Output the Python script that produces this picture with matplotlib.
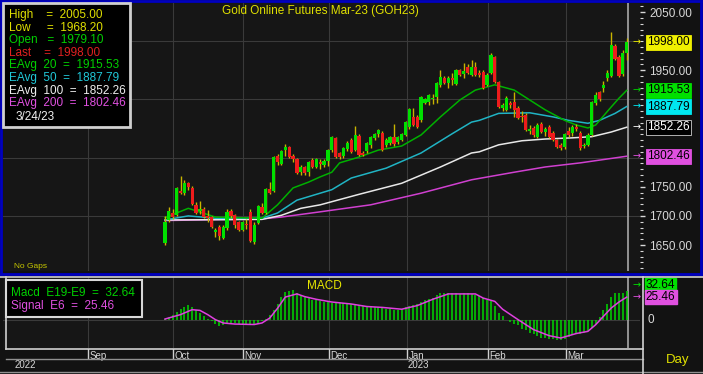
import numpy as np
import matplotlib.pyplot as plt
from matplotlib.ticker import MultipleLocator
from matplotlib.patches import Rectangle
from matplotlib.lines import Line2D

plt.rcParams['font.family'] = ['Liberation Sans', 'DejaVu Sans']

# daily OHLC, late Sep 2022 -> 3/24/23
opens = [1653, 1693, 1705, 1701, 1742, 1739, 1756, 1748, 1719, 1708,
         1712, 1700, 1698, 1672, 1681, 1662, 1679, 1708, 1701, 1689,
         1676, 1686, 1707, 1655, 1688, 1715, 1705, 1746, 1743, 1803,
         1789, 1813, 1818, 1803, 1798, 1776, 1784, 1776, 1796, 1784,
         1792, 1788, 1795, 1813, 1834, 1808, 1803, 1815, 1830, 1813,
         1837, 1808, 1811, 1822, 1834, 1840, 1842, 1822, 1825, 1836,
         1827, 1830, 1839, 1853, 1870, 1870, 1865, 1894, 1896, 1900,
         1904, 1925, 1936, 1928, 1937, 1926, 1950, 1944, 1955, 1942,
         1955, 1946, 1947, 1925, 1945, 1972, 1930, 1885, 1882, 1893,
         1895, 1885, 1872, 1873, 1845, 1851, 1835, 1858, 1844, 1853,
         1842, 1830, 1822, 1818, 1846, 1842, 1853, 1842, 1820, 1822,
         1839, 1894, 1912, 1920, 1937, 1941, 1991, 1973, 1944, 1979.1]
highs = [1700, 1715, 1712, 1750, 1768, 1762, 1759, 1752, 1724, 1725,
         1716, 1710, 1700, 1680, 1684, 1684, 1712, 1712, 1704, 1692,
         1692, 1694, 1712, 1690, 1718, 1722, 1748, 1758, 1803, 1807,
         1813, 1823, 1820, 1806, 1800, 1787, 1786, 1795, 1799, 1800,
         1797, 1798, 1815, 1838, 1836, 1810, 1818, 1828, 1833, 1854,
         1840, 1812, 1827, 1838, 1843, 1850, 1846, 1834, 1838, 1858,
         1837, 1843, 1863, 1885, 1885, 1874, 1906, 1903, 1910, 1910,
         1930, 1950, 1940, 1940, 1945, 1952, 1952, 1962, 1960, 1968,
         1965, 1950, 1950, 1945, 1980, 1975, 1932, 1893, 1905, 1897,
         1913, 1888, 1880, 1876, 1856, 1854, 1859, 1862, 1852, 1856,
         1845, 1832, 1825, 1843, 1852, 1856, 1858, 1846, 1826, 1842,
         1898, 1912, 1915, 1932, 1950, 2015, 1995, 1977, 1985, 2005]
lows = [1650, 1690, 1695, 1699, 1738, 1736, 1745, 1718, 1703, 1704,
        1696, 1689, 1679, 1664, 1658, 1660, 1676, 1697, 1680, 1674,
        1674, 1678, 1655, 1652, 1686, 1703, 1703, 1738, 1741, 1788,
        1787, 1803, 1799, 1793, 1772, 1770, 1770, 1768, 1782, 1782,
        1780, 1784, 1785, 1810, 1799, 1798, 1800, 1812, 1808, 1811,
        1803, 1802, 1808, 1816, 1830, 1836, 1811, 1818, 1822, 1820,
        1824, 1828, 1837, 1850, 1854, 1851, 1862, 1892, 1890, 1892,
        1893, 1922, 1926, 1920, 1925, 1924, 1940, 1936, 1943, 1940,
        1940, 1938, 1918, 1923, 1943, 1928, 1885, 1880, 1880, 1885,
        1870, 1866, 1862, 1845, 1840, 1836, 1833, 1842, 1838, 1833,
        1828, 1816, 1813, 1815, 1836, 1838, 1846, 1813, 1816, 1820,
        1837, 1890, 1898, 1912, 1932, 1938, 1967, 1939, 1940, 1968.2]
closes = [1689, 1708, 1698, 1748, 1740, 1756, 1750, 1720, 1705, 1711,
          1698, 1697, 1681, 1676, 1666, 1681, 1707, 1699, 1684, 1676,
          1689, 1684, 1657, 1684, 1717, 1705, 1746, 1740, 1801, 1792,
          1811, 1818, 1801, 1798, 1774, 1784, 1774, 1793, 1784, 1798,
          1789, 1794, 1813, 1836, 1801, 1801, 1816, 1825, 1810, 1839,
          1805, 1805, 1825, 1836, 1841, 1848, 1813, 1830, 1836, 1823,
          1835, 1841, 1861, 1883, 1856, 1853, 1904, 1901, 1908, 1902,
          1928, 1938, 1928, 1937, 1933, 1950, 1942, 1948, 1945, 1956,
          1942, 1942, 1920, 1942, 1976, 1930, 1887, 1890, 1902, 1890,
          1882, 1868, 1870, 1847, 1850, 1839, 1856, 1844, 1849, 1835,
          1830, 1818, 1817, 1840, 1839, 1853, 1849, 1816, 1822, 1839,
          1896, 1908, 1900, 1925, 1945, 1994, 1969, 1941, 1980, 1998]

# exponential averages at a few bars
ema20_idx = [0, 6, 13, 25, 29, 33, 37, 40, 43, 45, 50, 55, 61, 66, 71, 76, 80, 85,
             90, 94, 98, 103, 106, 109, 111, 115, 117, 119]
ema20_val = [1697, 1713, 1698, 1696, 1719, 1748, 1758, 1767, 1775, 1791, 1801, 1813,
             1820, 1839, 1870, 1899, 1916, 1925, 1916, 1899, 1882, 1864, 1856, 1851,
             1856, 1887, 1902, 1915.53]
ema50_idx = [0, 6, 13, 25, 29, 34, 39, 43, 48, 57, 66, 74, 79, 81, 86, 94, 100, 104,
             109, 112, 116, 119]
ema50_val = [1693, 1700, 1696, 1696, 1705, 1727, 1737, 1745, 1765, 1782, 1808, 1841,
             1861, 1864, 1876, 1877, 1870, 1864, 1859, 1864, 1876, 1887.79]
ema100_idx = [0, 25, 30, 35, 40, 50, 61, 71, 79, 81, 86, 92, 98, 105, 110, 115, 119]
ema100_val = [1693, 1694, 1701, 1713, 1719, 1737, 1756, 1784, 1808, 1810, 1822, 1829,
              1832, 1834, 1836, 1844, 1852.26]
ema200_idx = [0, 25, 30, 40, 53, 66, 79, 90, 98, 107, 119]
ema200_val = [1692, 1695, 1698, 1707, 1719, 1739, 1762, 1775, 1784, 1791, 1802.46]

# MACD (E19-E9) per bar and its E6 signal
macd = [1.5, 3, 5.5, 9, 12, 14, 17, 15, 11.5, 8,
        4, 1, -1.5, -4.5, -6.5, -5, -3.5, -3.3, -3.5, -4,
        -4, -4, -5, -6, -4, -1.5, 1, 6, 11, 18,
        26, 31, 32, 33, 30, 28, 26, 24, 22, 22,
        21, 20, 20, 19, 19, 19, 19, 18, 17.5, 17,
        16.3, 16, 15, 15, 15, 14, 13, 12, 12, 11.5,
        11.5, 12, 14, 16, 17, 18, 19.6, 21.8, 23.3, 25,
        28, 29.5, 30, 30, 30, 29.5, 29, 29.5, 30, 29,
        28, 27, 24, 22.6, 21, 16, 8, 4.5, 0, -2.5,
        -4.5, -6, -9.5, -11.5, -14, -16, -18, -20, -20, -21,
        -21, -22, -22, -21, -19, -17, -16, -15, -14, -12,
        -9, -4, 3, 11, 18, 26, 30, 30.5, 30, 32.64]
sig_idx = [0, 4, 7, 9, 11, 13, 15, 18, 23, 25, 27, 29, 31, 34, 36, 39, 43, 48, 52, 56,
           61, 65, 69, 73, 80, 82, 85, 87, 91, 95, 99, 102, 106, 109, 111, 115, 117, 119]
sig_val = [1.1, 6, 11.5, 10.7, 6, 0.4, -3.3, -4.5, -5, -3.3, 2.2, 13, 25.5, 29, 26, 23,
           20, 17.8, 15, 14, 12, 16, 23, 29, 29, 24.4, 20.7, 12, 0.4, -10.7, -17.4, -20,
           -15, -12.6, -5.2, 13.3, 20, 25.46]

months = ['Sep', 'Oct', 'Nov', 'Dec', 'Jan', 'Feb', 'Mar']
years = ['2022', '2023']

W, H = 703, 374


def fx(px):
    return px / W


def fy(py):
    return 1 - py / H


# bar 0 sits at pixel 165, 3.88 px per bar
def bar_at(px):
    return (px - 165) / 3.88


month_pos = [bar_at(p) for p in (88, 173, 243, 329, 407, 488, 566)]
year_pos = [bar_at(15), bar_at(408)]

opens = np.array(opens)
closes = np.array(closes)
n = len(closes)
idx = np.arange(n)

BG = '#161616'
GRID = '#3a3a3a'
TXT = '#d8d8d8'

fig = plt.figure(figsize=(W / 100, H / 100), dpi=100, facecolor='#121212')
x0, x1 = bar_at(3), bar_at(640)

# ---- price pane
ax = fig.add_axes([fx(3), fy(271), fx(640) - fx(3), (271 - 3) / H])
ax.set_facecolor(BG)
ax.set_xlim(x0, x1)
ax.set_ylim(1605.4, 2065.5)
for p in (1700, 1800, 1900, 2000):
    ax.axhline(p, color=GRID, lw=0.8, zorder=0)
for m in month_pos:
    ax.axvline(m, color=GRID, lw=0.8, zorder=0)
ax.axvline(n - 1 + 0.3, color='#a8a8a8', lw=1.2, zorder=1)

ax.plot(ema200_idx, ema200_val, color='#d040d0', lw=1.1, zorder=2)
ax.plot(ema100_idx, ema100_val, color='#e8e8e8', lw=1.1, zorder=2)
ax.plot(ema50_idx, ema50_val, color='#20b4c4', lw=1.1, zorder=2)
ax.plot(ema20_idx, ema20_val, color='#00b000', lw=1.1, zorder=2)

up = closes >= opens
ax.vlines(idx, lows, highs, color='#c8b400', lw=1.0, zorder=3)
ax.bar(idx, np.maximum(np.abs(closes - opens), 1.0), bottom=np.minimum(opens, closes),
       width=0.82, color=np.where(up, '#00e000', '#ee1c1c'), zorder=4)

ax.yaxis.tick_right()
ax.set_yticks([1650, 1700, 1750, 1950, 2050])
ax.set_yticklabels(['%.2f' % v for v in (1650, 1700, 1750, 1950, 2050)])
ax.yaxis.set_minor_locator(MultipleLocator(10))
ax.tick_params(axis='y', which='major', colors=TXT, length=3.5, width=1, labelsize=8.5, pad=3)
ax.tick_params(axis='y', which='minor', color=TXT, length=2, width=0.8)
ax.set_xticks([])
for s in ax.spines.values():
    s.set_visible(False)

tr = ax.get_yaxis_transform()
last_vals = [1998.00, 1915.53, 1887.79, 1852.26, 1802.46]
box_cols = ['#f0f000', '#00e000', '#00e8f0', '#000000', '#e050e0']
arrow_cols = ['#f0f000', '#00d000', '#00e8f0', '#ffffff', '#e050e0']
for v, bc, ac in zip(last_vals, box_cols, arrow_cols):
    tc = '#ffffff' if bc == '#000000' else '#000000'
    ax.text(1.011, v, '%.2f' % v, transform=tr, ha='left', va='center', fontsize=8.5,
            color=tc, clip_on=False, zorder=6,
            bbox=dict(boxstyle='square,pad=0.12', fc=bc, ec='#cccccc' if bc == '#000000' else bc, lw=0.6))
    ax.text(0.9945, v, '→', transform=tr, ha='center', va='center', fontsize=7,
            color=ac, zorder=6, family='DejaVu Sans')

# ---- MACD pane
axm = fig.add_axes([fx(3), fy(348), fx(640) - fx(3), (348 - 277) / H])
axm.set_facecolor(BG)
axm.set_xlim(x0, x1)
axm.set_ylim(-31.1, 47.8)
axm.axhline(0, color=GRID, lw=0.8, zorder=0)
for m in month_pos:
    axm.axvline(m, color=GRID, lw=0.8, zorder=0)
axm.axvline(n - 1 + 0.3, color='#a8a8a8', lw=1.2, zorder=1)
axm.vlines(idx, 0, macd, color='#00d800', lw=1.1, zorder=2)
axm.plot(sig_idx, sig_val, color='#e040e0', lw=1.1, zorder=3)
axm.set_xticks([])
axm.set_yticks([])
for s in axm.spines.values():
    s.set_visible(False)
trm = axm.get_yaxis_transform()
for v, dy, bc in ((32.64, 4, '#00e000'), (25.46, 0, '#e050e0')):
    axm.annotate('%.2f' % v, xy=(1.009, v), xycoords=trm, xytext=(0, dy),
                 textcoords='offset points', ha='left', va='center', fontsize=8.5,
                 color='#000000', annotation_clip=False,
                 bbox=dict(boxstyle='square,pad=0.1', fc=bc, ec=bc))
    axm.annotate('→', xy=(0.9945, v), xycoords=trm, xytext=(0, dy),
                 textcoords='offset points', ha='center', va='center', fontsize=7,
                 color=bc, family='DejaVu Sans', annotation_clip=False)
axm.text(1.011, 0, '0', transform=trm, ha='left', va='center', fontsize=8.5, color=TXT)
axm.text(0.505, 0.88, 'MACD', transform=axm.transAxes, ha='center', va='center',
         fontsize=8.5, color='#e8e800')

# ---- month / year strips
axs = fig.add_axes([fx(3), fy(359), fx(640) - fx(3), 10 / H])
axs.set_xlim(x0, x1)
axs.set_ylim(0, 1)
axs.axis('off')
for m, lab in zip(month_pos, months):
    axs.axvline(m, color='#d0d0d0', lw=1)
    axs.text(m + 0.4, 0.3, lab, ha='left', va='center', fontsize=7, color=TXT)

axy = fig.add_axes([fx(3), fy(372), fx(640) - fx(3), 13 / H])
axy.set_xlim(x0, x1)
axy.set_ylim(0, 1)
axy.axis('off')
for p, lab in zip(year_pos, years):
    axy.text(p, 0.5, lab, ha='left', va='center', fontsize=7, color=TXT)


# ---- frames
def seg(xa, ya, xb, yb, color, lw):
    fig.add_artist(Line2D([fx(xa), fx(xb)], [fy(ya), fy(yb)], transform=fig.transFigure,
                          color=color, lw=lw))


seg(1, 1, 701, 1, '#0000c0', 2)
seg(701, 1, 701, 274, '#0000c0', 2)
seg(1, 274, 701, 274, '#0000c0', 2)
seg(1, 1, 1, 274, '#0000c0', 2)
seg(0, 277, 703, 277, '#d0d0d0', 1.2)
seg(6, 277, 6, 349, '#d0d0d0', 1.2)
seg(6, 349, 643, 349, '#d0d0d0', 1.2)
seg(6, 359, 643, 359, '#909090', 1)
seg(0, 372, 703, 372, '#909090', 1)
seg(643, 277, 643, 374, '#d0d0d0', 1.2)

# legend boxes
fig.add_artist(Rectangle((fx(3), fy(127)), fx(127), 124 / H, transform=fig.transFigure,
                         fc='#000000', ec='#d0d0d0', lw=2, zorder=5))
legend_rows = [('High    =  2005.00', '#e0e000'),
               ('Low     =  1968.20', '#e0e000'),
               ('Open   =  1979.10', '#00d000'),
               ('Last    =  1998.00', '#e02020'),
               ('EAvg  20  =  1915.53', '#00d000'),
               ('EAvg  50  =  1887.79', '#20c8d8'),
               ('EAvg  100  =  1852.26', '#f0f0f0'),
               ('EAvg  200  =  1802.46', '#e050e0')]
for k, (s, c) in enumerate(legend_rows):
    fig.text(fx(9), fy(15 + 12.6 * k), s, ha='left', va='center', fontsize=8.5, color=c, zorder=6)
fig.text(fx(16), fy(117), '3/24/23', ha='left', va='center', fontsize=8.5, color='#f0f0f0', zorder=6)

fig.add_artist(Rectangle((fx(6), fy(317)), fx(136), 37 / H, transform=fig.transFigure,
                         fc='#000000', ec='#d8d8d8', lw=1.5, zorder=5))
fig.text(fx(11), fy(293), 'Macd  E19-E9  =  32.64', ha='left', va='center', fontsize=8.5,
         color='#00d000', zorder=6)
fig.text(fx(11), fy(306), 'Signal  E6  =  25.46', ha='left', va='center', fontsize=8.5,
         color='#e050e0', zorder=6)

fig.text(fx(320), fy(11), 'Gold Online Futures Mar-23 (GOH23)', ha='center', va='center',
         fontsize=8.5, color='#e0e000')
fig.text(fx(14), fy(267), 'No Gaps', ha='left', va='center', fontsize=6, color='#c8c800')
fig.text(fx(678), fy(360), 'Day', ha='center', va='center', fontsize=9.5, color='#e0e000')

fig.savefig('out.png', dpi=100, facecolor=fig.get_facecolor())
